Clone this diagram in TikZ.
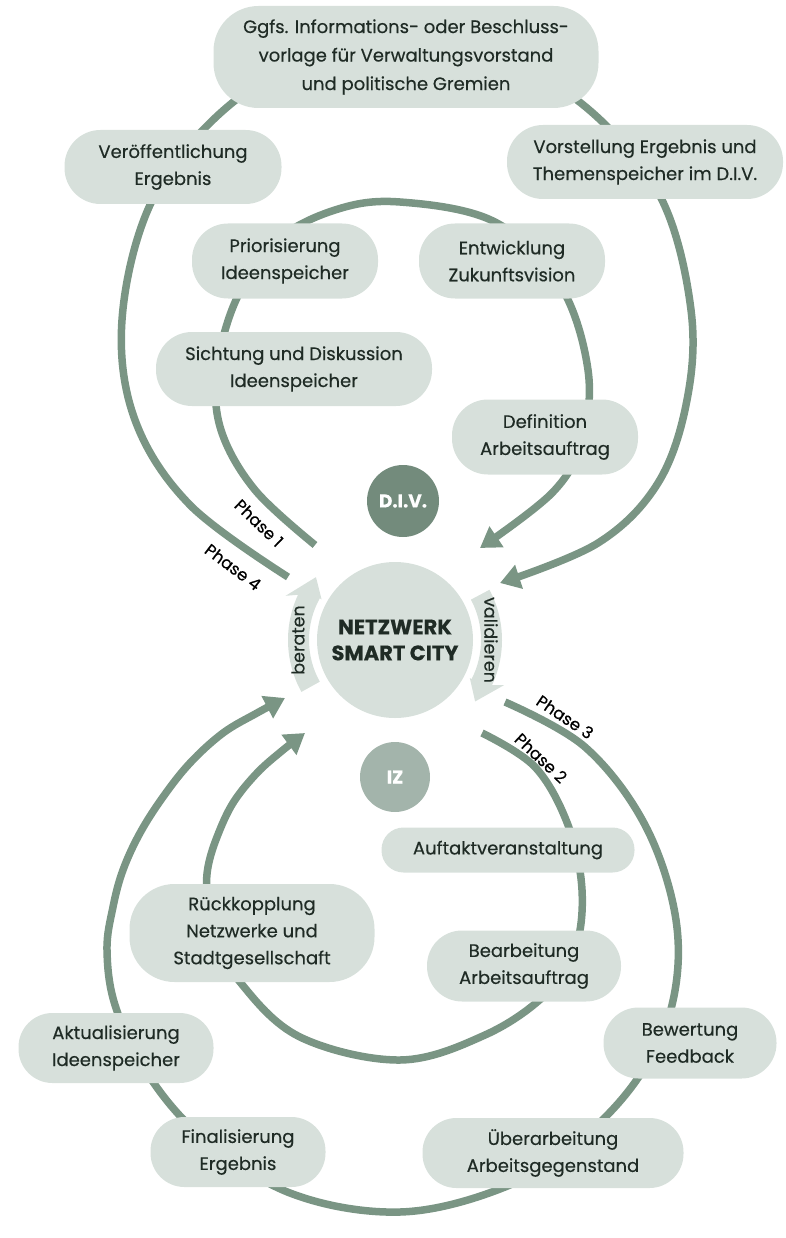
\documentclass[tikz,border=0pt]{standalone}
\usepackage{fontspec}
\setmainfont{Poppins}[FakeBold=0.4]
\usetikzlibrary{arrows.meta,calc}
\definecolor{lg}{HTML}{7A9584}
\definecolor{boxfill}{HTML}{D7E0DB}
\definecolor{divfill}{HTML}{738B7C}
\definecolor{izfill}{HTML}{A3B4AB}
\definecolor{txt}{HTML}{1F2B25}
\begin{document}
\begin{tikzpicture}[x=1pt,y=1pt,
  loopline/.style={draw=lg, line width=7.5pt},
  arr/.style={-{Triangle[length=20pt,width=24pt]}},
  box/.style n args={3}{fill=boxfill, rounded corners=#3pt, align=center,
     text=txt, inner sep=0pt, minimum width=#1pt, minimum height=#2pt,
     font=\fontsize{18}{27}\selectfont},
  phase/.style={font=\fontsize{16.5}{18}\selectfont, text=black},
]
\useasboundingbox (0,0) rectangle (785,-1238);

% ---------- loops ----------
% outer top loop (Phase 4)
\draw[loopline, arr] plot[smooth, tension=0.6] coordinates {
 (288,-577) (190,-505) (135,-420) (122,-320) (150,-205) (215,-118) (300,-63)
 (405,-45) (510,-63) (595,-115) (662,-200) (691,-310) (687,-400) (658,-483)
 (598,-543) (500,-583)};
% inner top loop (Phase 1)
\draw[loopline, arr] plot[smooth, tension=0.6] coordinates {
 (315,-545) (255,-490) (221,-430) (217,-370) (236,-300) (275,-242) (335,-210)
 (400,-202) (495,-222) (560,-285) (588,-370) (582,-440) (553,-492) (480,-548)};
% outer bottom loop (Phase 3)
\draw[loopline, arr] plot[smooth, tension=0.6] coordinates {
 (505,-702) (585,-747) (645,-825) (676,-920) (672,-1005) (638,-1078) (580,-1140)
 (505,-1187) (400,-1212) (290,-1193) (200,-1135) (145,-1070) (115,-1005)
 (107,-950) (113,-907) (123,-870) (140,-833) (163,-797) (190,-763) (223,-733)
 (257,-713) (285,-698)};
% inner bottom loop (Phase 2)
\draw[loopline, arr] plot[smooth, tension=0.6] coordinates {
 (482,-733) (535,-767) (568,-825) (582,-890) (575,-950) (545,-995) (485,-1035)
 (400,-1060) (300,-1037) (240,-982) (212,-930) (207,-893) (208,-867)
 (217,-837) (233,-803) (257,-773) (283,-750) (305,-733)};

% ---------- phase labels ----------
\node[phase, rotate=-44] (ph1) at (259,-523) {Phase 1};
\node[phase, rotate=-37] (ph4) at (233,-567) {Phase 4};
\node[phase, rotate=-34] (ph3) at (565,-717) {Phase 3};
\node[phase, rotate=-43] (ph2) at (541,-758) {Phase 2};

% ---------- centre ----------
\coordinate (C) at (395,-640);
\fill[boxfill] ($(C)+(209:107)$) arc[start angle=209, end angle=155, radius=107]
  -- ($(C)+(158:118)$) -- ($(C)+(141.5:101)$) -- ($(C)+(151:84)$)
  -- ($(C)+(151:86)$) arc[start angle=151, end angle=209, radius=86] -- cycle;
\fill[boxfill] ($(C)+(28:107)$) arc[start angle=28, end angle=-25, radius=107]
  -- ($(C)+(-22.5:118)$) -- ($(C)+(-37.5:101)$) -- ($(C)+(-27:84)$)
  -- ($(C)+(-27:86)$) arc[start angle=-27, end angle=28, radius=86] -- cycle;
\node[rotate=90, text=txt, font=\fontsize{17.5}{18}\selectfont] (ber) at ($(C)+(180:97)$) {beraten};
\node[rotate=-90, text=txt, font=\fontsize{17.5}{18}\selectfont] (val) at ($(C)+(0:96)$) {validieren};

\node[circle, fill=boxfill, minimum size=156pt, inner sep=0pt, align=center,
  text=txt, font=\fontsize{21}{26}\selectfont\bfseries] (net) at (C) {NETZWERK\\SMART CITY};
\node[circle, fill=divfill, minimum size=72pt, inner sep=0pt, text=white,
  font=\fontsize{18.5}{20}\selectfont\bfseries] (div) at (403,-501) {D.I.V.};
\node[circle, fill=izfill, minimum size=70pt, inner sep=0pt, text=white,
  font=\fontsize{18.5}{20}\selectfont\bfseries] (iz) at (395,-777) {IZ};

% ---------- boxes ----------
\node[box={385}{102}{45}, font=\fontsize{18}{28.5}\selectfont] (top) at (406,-57)
  {Ggfs. Informations- oder Beschluss-\\vorlage für Verwaltungsvorstand\\und politische Gremien};
\node[box={217}{74}{36}] (veroe) at (173,-167) {Veröffentlichung\\Ergebnis};
\node[box={276}{74}{36}] (vorst) at (645,-162) {Vorstellung Ergebnis und\\Themenspeicher im D.I.V.};
\node[box={186}{75}{36}] (prio) at (285,-261) {Priorisierung\\Ideenspeicher};
\node[box={186}{75}{36}] (entw) at (512,-261) {Entwicklung\\Zukunftsvision};
\node[box={276}{74}{36}] (sicht) at (294,-369) {Sichtung und Diskussion\\Ideenspeicher};
\node[box={186}{75}{36}] (defi) at (545,-437) {Definition\\Arbeitsauftrag};
\node[box={253}{45}{22}] (auft) at (508,-850) {Auftaktveranstaltung};
\node[box={245}{98}{45}] (rueck) at (252,-933) {Rückkopplung\\Netzwerke und\\Stadtgesellschaft};
\node[box={194}{71}{35}] (bearb) at (524,-966) {Bearbeitung\\Arbeitsauftrag};
\node[box={173}{71}{35}] (bew) at (690,-1043) {Bewertung\\Feedback};
\node[box={195}{70}{34}] (aktu) at (116,-1048) {Aktualisierung\\Ideenspeicher};
\node[box={175}{70}{34}] (fina) at (238,-1152) {Finalisierung\\Ergebnis};
\node[box={261}{70}{34}] (ueber) at (553,-1153) {Überarbeitung\\Arbeitsgegenstand};
\end{tikzpicture}
\end{document}
